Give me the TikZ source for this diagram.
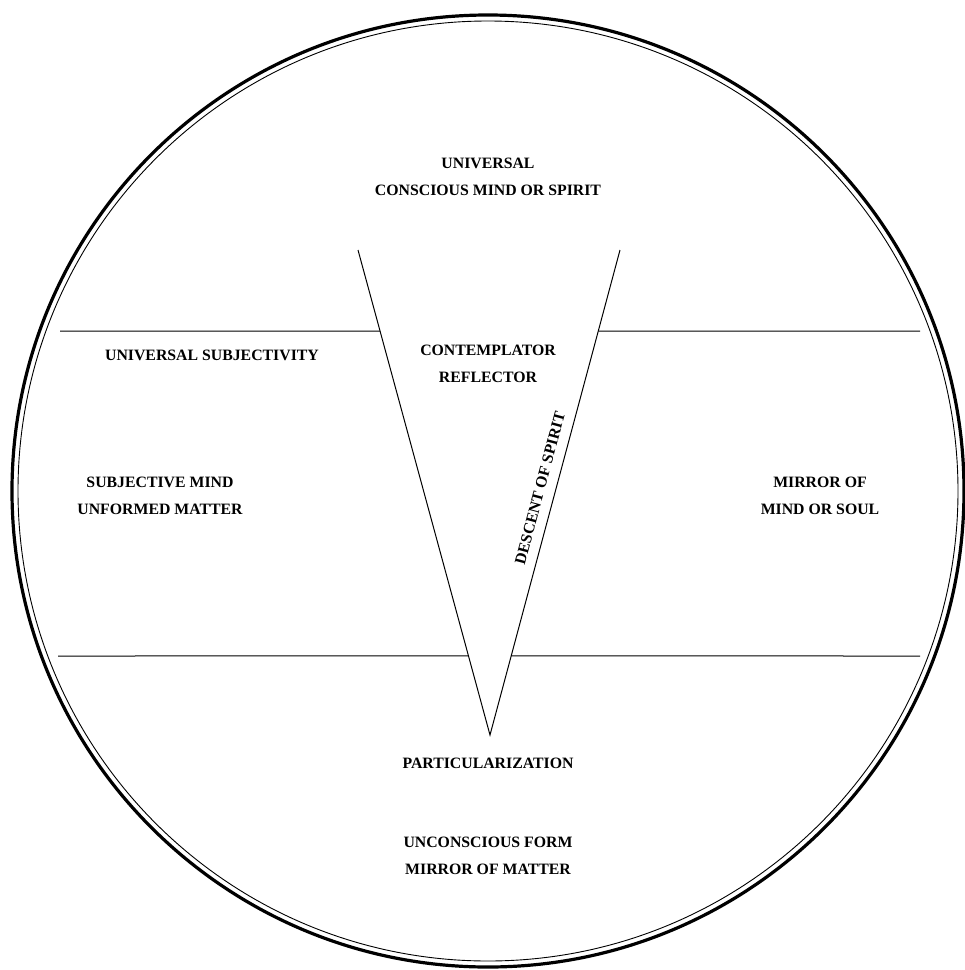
\documentclass[tikz,border=0pt]{standalone}
\usepackage{fontspec}
\setmainfont{Liberation Serif}
\usepackage{tikz}
\usetikzlibrary{positioning, calc}

\begin{document}
\begin{tikzpicture}[
            x=1pt, y=-1pt,
            rim/.style={draw=black, line width=3.2pt},
            innerrim/.style={draw=black, line width=0.9pt},
            edge/.style={line width=1pt},
            caption/.style={font=\fontsize{15.8}{27}\selectfont\bfseries, align=center, inner sep=0pt}
        ]
        \useasboundingbox (0,0) rectangle (965,970);

        % Kreis
        \coordinate (m) at (488,491);
        \draw[rim] (m) circle[radius=476pt];
        \draw[innerrim] (m) circle[radius=470pt];

        % Keil
        \coordinate (vl) at (358,250);
        \coordinate (vr) at (620,250);
        \coordinate (apex) at (490,735);
        \draw[edge] (vl) -- (apex) -- (vr);

        % Linien
        \coordinate (al) at (60,331);
        \coordinate (ar) at (920,331);
        \coordinate (bl) at (58,656);
        \coordinate (br) at (920,656);
        \coordinate (ai) at ($(vl)!0.167!(apex)$);
        \coordinate (aj) at ($(vr)!0.167!(apex)$);
        \coordinate (bi) at ($(vl)!0.837!(apex)$);
        \coordinate (bj) at ($(vr)!0.837!(apex)$);
        \draw[edge] (al) -- (ai);
        \draw[edge] (aj) -- (ar);
        \draw[edge] (bl) -- (bi);
        \draw[edge] (bj) -- (br);

        % Texte
        \node[caption] (spirit) at (488,177) {UNIVERSAL\\CONSCIOUS MIND OR SPIRIT};
        \node[caption] (subj) at (212,355) {UNIVERSAL SUBJECTIVITY};
        \node[caption] (contemp) at (488,364) {CONTEMPLATOR\\REFLECTOR};
        \node[caption] (mind) at (160,496) {SUBJECTIVE MIND\\UNFORMED MATTER};
        \node[caption] (soul) at (820,496) {MIRROR OF\\MIND OR SOUL};
        \node[caption, rotate=75] (descent) at (540,488) {DESCENT OF SPIRIT};
        \node[caption] (partic) at (488,763) {PARTICULARIZATION};
        \node[caption] (form) at (488,856) {UNCONSCIOUS FORM\\MIRROR OF MATTER};

    \end{tikzpicture}
\end{document}
